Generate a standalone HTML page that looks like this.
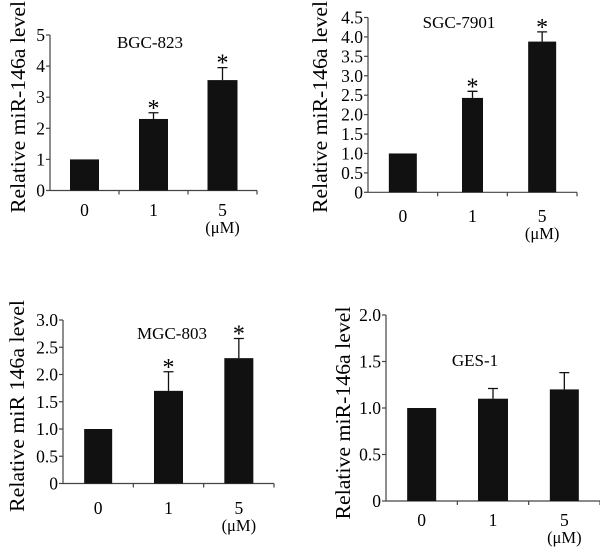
<!DOCTYPE html>
<html><head><meta charset="utf-8"><style>
html,body{margin:0;padding:0;background:#fff;}
svg{display:block;font-family:"Liberation Serif","Times New Roman",serif;}
</style></head><body>
<svg id="fig" width="600" height="553" viewBox="0 0 600 553" xmlns="http://www.w3.org/2000/svg"></svg>
<script>
const categories = ["0","1","5"];
const bgcValues = [1.0, 2.3, 3.55];
const bgcErrors = [0, 0.2, 0.4];
const bgcTicks = ["0","1","2","3","4","5"];
const sgcValues = [1.0, 2.43, 3.88];
const sgcErrors = [0, 0.17, 0.25];
const sgcTicks = ["0","0.5","1.0","1.5","2.0","2.5","3.0","3.5","4.0","4.5"];
const mgcValues = [1.0, 1.7, 2.3];
const mgcErrors = [0, 0.35, 0.36];
const mgcTicks = ["0","0.5","1.0","1.5","2.0","2.5","3.0"];
const gesValues = [1.0, 1.1, 1.2];
const gesErrors = [0, 0.11, 0.18];
const gesTicks = ["0","0.5","1.0","1.5","2.0"];
const significant = [[false,true,true],[false,true,true],[false,true,true],[false,false,false]];

const NS = "http://www.w3.org/2000/svg";
const svg = document.getElementById("fig");
function mk(tag, attrs, parent, text){
  const e = document.createElementNS(NS, tag);
  for (const k in attrs) e.setAttribute(k, attrs[k]);
  if (text !== undefined) e.textContent = text;
  parent.appendChild(e);
  return e;
}
function panel(cfg){
  const g = mk("g", {}, svg);
  
  
  const ticks = cfg.ticks;
  const yMax = parseFloat(ticks[ticks.length-1]);
  const y = v => cfg.y0 - (v / yMax) * (cfg.y0 - cfg.yTop);
  const groupW = (cfg.xEnd - cfg.x0) / categories.length;
  const xc = i => cfg.x0 + groupW * (i + 0.5);
  const ax = mk("line", {x1:cfg.x0, y1:cfg.yTop, x2:cfg.x0, y2:cfg.y0, stroke:"#444", "stroke-width":1.2}, g);
  
  
  const xa = mk("line", {x1:cfg.x0, y1:cfg.y0, x2:cfg.xEnd, y2:cfg.y0, stroke:"#444", "stroke-width":1.2}, g);
  
  
  ticks.forEach((t) => {
    const v = parseFloat(t);
    const yy = y(v);
    const tl = mk("line", {x1:cfg.x0-4, y1:yy, x2:cfg.x0, y2:yy, stroke:"#444", "stroke-width":1.2}, g);
    
    
    const tx = mk("text", {x:cfg.x0-5, y:yy+6, "text-anchor":"end", "font-size":17.5}, g, t);
    
    
  });
  for (let i = 1; i <= categories.length; i++){
    const xx = cfg.x0 + groupW * i;
    const tk = mk("line", {x1:xx, y1:cfg.y0, x2:xx, y2:cfg.y0+4, stroke:"#444", "stroke-width":1.2}, g);
    
    
  }
  categories.forEach((c, i) => {
    const v = cfg.values[i], e = cfg.errors[i];
    const bw = cfg.barW[i];
    const b = mk("rect", {x:xc(i)-bw/2, y:y(v), width:bw, height:cfg.y0-y(v), fill:"#111"}, g);
    
    
    if (e > 0){
      const eb = mk("path", {d:`M${xc(i)} ${y(v)} V${y(v+e)} M${xc(i)-5} ${y(v+e)} H${xc(i)+5}`, stroke:"#111", "stroke-width":1.3, fill:"none"}, g);
      
      
    }
    if (cfg.sig[i]){
      const s = mk("text", {x:xc(i), y:y(v+e)+3, "text-anchor":"middle", "font-size":24}, g, "*");
      
      
    }
    const xl = mk("text", {x:xc(i), y:cfg.xLabY, "text-anchor":"middle", "font-size":17.5}, g, c);
    
    
  });
  const unit = mk("text", {x:xc(2), y:cfg.xLabY+17, "text-anchor":"middle", "font-size":16.5}, g, "(μM)");
  
  
  const title = mk("text", {x:cfg.titleX, y:cfg.titleY+6, "text-anchor":"middle", "font-size":17}, g, cfg.title);
  
  
  const yl = mk("text", {x:0, y:0, "text-anchor":"middle", "font-size":21, textLength:cfg.ylLen, lengthAdjust:"spacingAndGlyphs",
    transform:`translate(${cfg.ylX+7},${cfg.ylY}) rotate(-90)`}, g, cfg.ylText);
  
  
}
panel({name:"panel-bgc-823", title:"BGC-823", values:bgcValues, errors:bgcErrors, ticks:bgcTicks, sig:significant[0],
  x0:50, xEnd:257, yTop:35, y0:190.5, barW:[29,29,30], titleX:150, titleY:42, xLabY:216,
  ylX:18, ylY:107, ylLen:212, ylText:"Relative miR-146a level"});
panel({name:"panel-sgc-7901", title:"SGC-7901", values:sgcValues, errors:sgcErrors, ticks:sgcTicks, sig:significant[1],
  x0:368, xEnd:577, yTop:17.5, y0:192.3, barW:[28,21,28], titleX:459, titleY:22, xLabY:222,
  ylX:320, ylY:107, ylLen:212, ylText:"Relative miR-146a level"});
panel({name:"panel-mgc-803", title:"MGC-803", values:mgcValues, errors:mgcErrors, ticks:mgcTicks, sig:significant[2],
  x0:63, xEnd:274, yTop:320, y0:483.5, barW:[28,29,29], titleX:172, titleY:333, xLabY:514,
  ylX:17, ylY:406, ylLen:212, ylText:"Relative miR 146a level"});
panel({name:"panel-ges-1", title:"GES-1", values:gesValues, errors:gesErrors, ticks:gesTicks, sig:significant[3],
  x0:386, xEnd:600, yTop:315, y0:501, barW:[29,30,29], titleX:475, titleY:360, xLabY:526,
  ylX:343, ylY:413, ylLen:213, ylText:"Relative miR-146a level"});
</script>
</body></html>
